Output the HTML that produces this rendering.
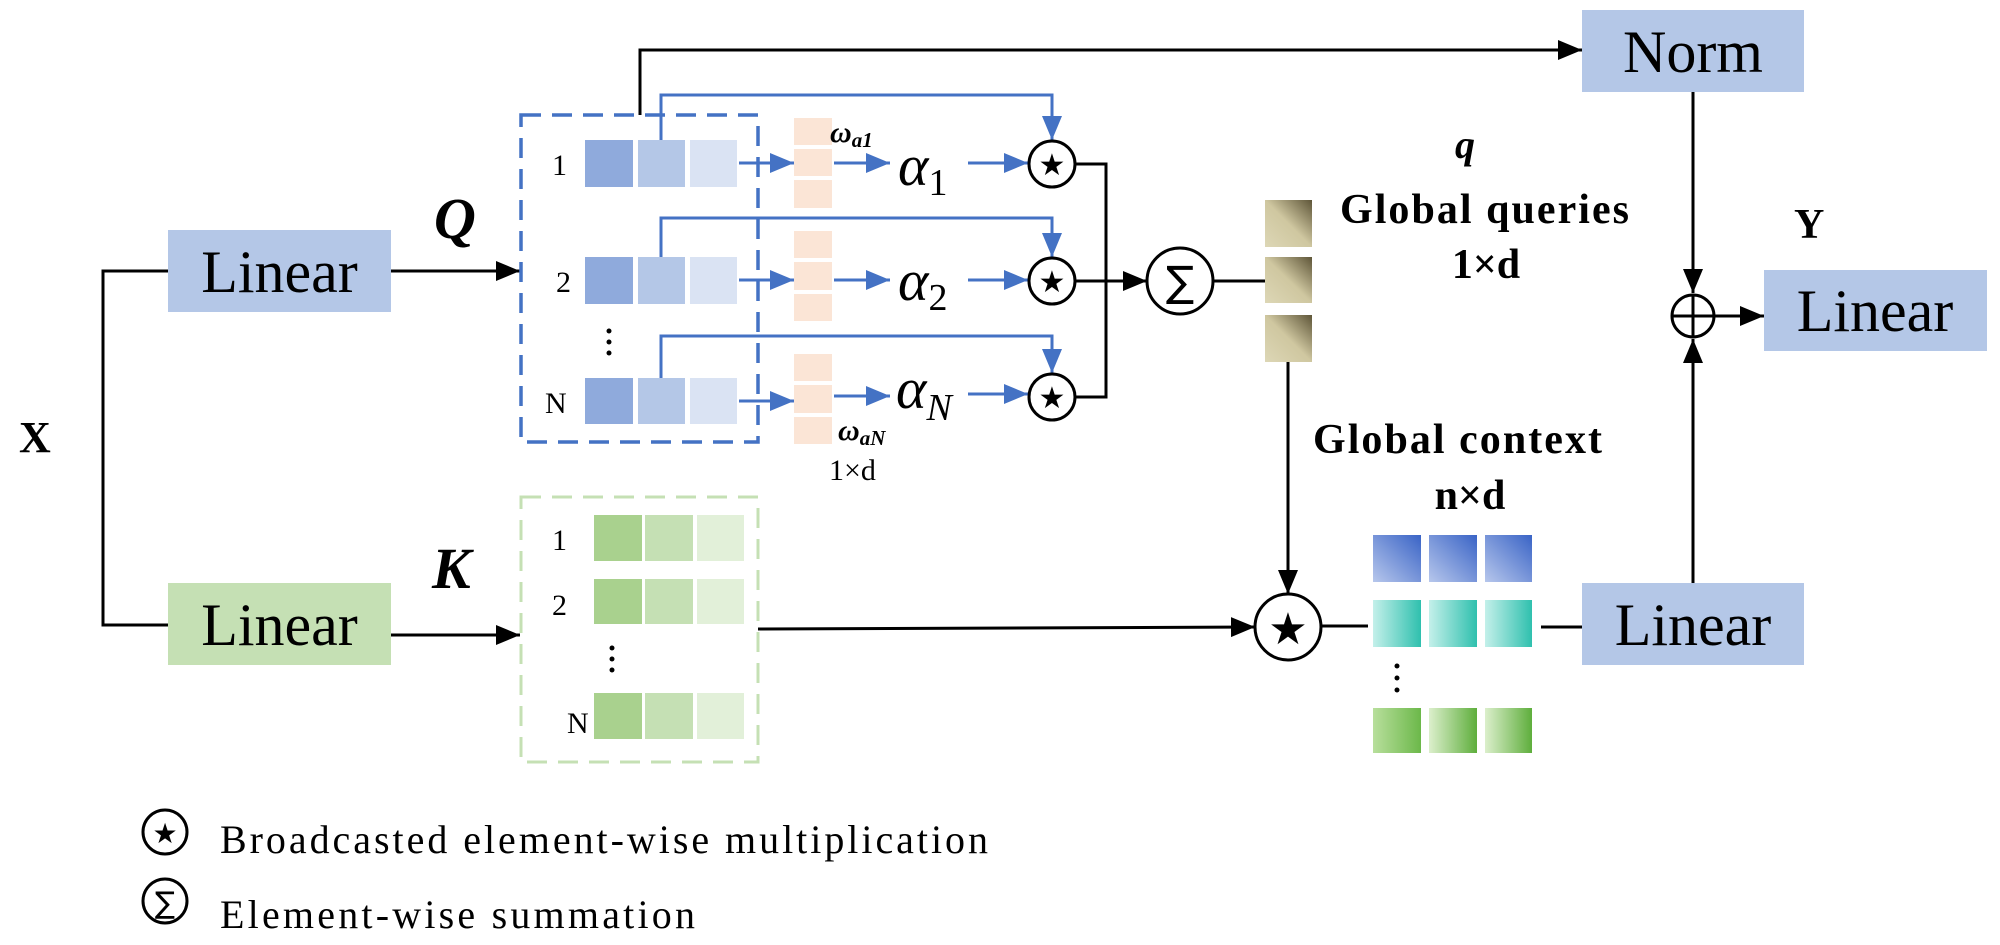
<!DOCTYPE html>
<html><head><meta charset="utf-8"><style>
html,body{margin:0;padding:0;background:#fff;}
svg{display:block;font-family:"Liberation Serif",serif;}
</style></head><body>
<svg width="2000" height="945" viewBox="0 0 2000 945" xmlns="http://www.w3.org/2000/svg">
<defs>
<marker id="ab" viewBox="0 0 10 10" refX="10" refY="5" markerWidth="6" markerHeight="6" markerUnits="userSpaceOnUse" orient="auto"><path d="M0,0L10,5L0,10z" fill="#000"/></marker>
<marker id="ak" viewBox="0 0 10 10" refX="10" refY="5" markerWidth="24" markerHeight="20" markerUnits="userSpaceOnUse" orient="auto" preserveAspectRatio="none"><path d="M0,0L10,5L0,10z" fill="#000"/></marker>
<marker id="au" viewBox="0 0 10 10" refX="10" refY="5" markerWidth="24" markerHeight="20" markerUnits="userSpaceOnUse" orient="auto" preserveAspectRatio="none"><path d="M0,0L10,5L0,10z" fill="#4472c4"/></marker>
<linearGradient id="gold" x1="0" y1="1" x2="1" y2="0"><stop offset="0" stop-color="#ddd7b6"/><stop offset="0.5" stop-color="#cfc7a0"/><stop offset="1" stop-color="#5e5538"/></linearGradient>
<linearGradient id="gb" x1="0" y1="1" x2="1" y2="0"><stop offset="0" stop-color="#b7c7ec"/><stop offset="1" stop-color="#3a64c6"/></linearGradient>
<linearGradient id="gt" x1="0" y1="0" x2="1" y2="0"><stop offset="0" stop-color="#c4f0ea"/><stop offset="1" stop-color="#2fc0ae"/></linearGradient>
<linearGradient id="gg" x1="0" y1="0" x2="1" y2="0"><stop offset="0" stop-color="#dcefcc"/><stop offset="1" stop-color="#5eae3c"/></linearGradient>
<linearGradient id="gg1" x1="0" y1="0" x2="1" y2="0"><stop offset="0" stop-color="#b8df9c"/><stop offset="1" stop-color="#6cb84a"/></linearGradient>
</defs>

<!-- X -->
<text x="19" y="452" font-size="44" font-weight="bold">X</text>
<polyline points="168,271 103,271 103,625 168,625" fill="none" stroke="#000" stroke-width="3"/>

<!-- Linear boxes left -->
<rect x="168" y="230" width="223" height="82" fill="#b4c7e7"/>
<text x="279.5" y="292" font-size="60" text-anchor="middle">Linear</text>
<rect x="168" y="583" width="223" height="82" fill="#c5e0b4"/>
<text x="279.5" y="645" font-size="60" text-anchor="middle">Linear</text>

<line x1="391" y1="271" x2="520" y2="271" stroke="#000" stroke-width="3" marker-end="url(#ak)"/>
<line x1="391" y1="635" x2="520" y2="635" stroke="#000" stroke-width="3" marker-end="url(#ak)"/>
<text x="434" y="238" font-size="58" font-weight="bold" font-style="italic">Q</text>
<text x="432" y="588" font-size="58" font-weight="bold" font-style="italic">K</text>

<!-- top black line to Norm -->
<polyline points="640,115 640,50 1582,50" fill="none" stroke="#000" stroke-width="3" marker-end="url(#ak)"/>

<!-- Q dashed box -->
<rect x="521" y="115" width="237" height="327" fill="none" stroke="#4472c4" stroke-width="3.5" stroke-dasharray="20,11"/>
<g font-size="30">
<text x="552" y="175">1</text><text x="556" y="292">2</text><text x="545" y="413">N</text>
</g>
<g fill="#4472c4"><circle cx="609" cy="331" r="2.5" fill="#000"/><circle cx="609" cy="342" r="2.5" fill="#000"/><circle cx="609" cy="353" r="2.5" fill="#000"/></g>
<g>
<rect x="585" y="140" width="48" height="47" fill="#8faadc"/><rect x="638" y="140" width="47" height="47" fill="#b4c7e7"/><rect x="690" y="140" width="47" height="47" fill="#dae3f3"/>
<rect x="585" y="257" width="48" height="47" fill="#8faadc"/><rect x="638" y="257" width="47" height="47" fill="#b4c7e7"/><rect x="690" y="257" width="47" height="47" fill="#dae3f3"/>
<rect x="585" y="378" width="48" height="46" fill="#8faadc"/><rect x="638" y="378" width="47" height="46" fill="#b4c7e7"/><rect x="690" y="378" width="47" height="46" fill="#dae3f3"/>
</g>

<!-- peach columns -->
<g fill="#fbe5d6">
<rect x="794" y="118" width="38" height="27"/><rect x="794" y="149" width="38" height="27"/><rect x="794" y="180" width="38" height="28"/>
<rect x="794" y="231" width="38" height="27"/><rect x="794" y="262" width="38" height="28"/><rect x="794" y="294" width="38" height="27"/>
<rect x="794" y="354" width="38" height="27"/><rect x="794" y="385" width="38" height="28"/><rect x="794" y="417" width="38" height="27"/>
</g>

<!-- blue arrows -->
<g stroke="#4472c4" stroke-width="3" fill="none">
<line x1="739" y1="163" x2="794" y2="163" marker-end="url(#au)"/>
<line x1="739" y1="280" x2="794" y2="280" marker-end="url(#au)"/>
<line x1="739" y1="401" x2="794" y2="401" marker-end="url(#au)"/>
<line x1="834" y1="163" x2="890" y2="163" marker-end="url(#au)"/>
<line x1="834" y1="280" x2="890" y2="280" marker-end="url(#au)"/>
<line x1="834" y1="396" x2="890" y2="396" marker-end="url(#au)"/>
<line x1="968" y1="163" x2="1028" y2="163" marker-end="url(#au)"/>
<line x1="968" y1="280" x2="1028" y2="280" marker-end="url(#au)"/>
<line x1="968" y1="394" x2="1028" y2="394" marker-end="url(#au)"/>
<polyline points="661,140 661,95 1052,95 1052,140" marker-end="url(#au)"/>
<polyline points="661,257 661,218 1052,218 1052,257" marker-end="url(#au)"/>
<polyline points="661,378 661,336 1052,336 1052,373" marker-end="url(#au)"/>
</g>

<!-- alphas -->
<g font-style="italic" font-size="58">
<text x="898" y="185">α<tspan font-style="normal" font-size="38" dy="10">1</tspan></text>
<text x="898" y="300">α<tspan font-style="normal" font-size="38" dy="10">2</tspan></text>
<text x="896" y="408">α<tspan font-size="38" dy="12">N</tspan></text>
</g>
<text x="830" y="142" font-size="30" font-weight="bold" font-style="italic">ω<tspan font-size="21" dy="5">a1</tspan></text>
<text x="838" y="440" font-size="30" font-weight="bold" font-style="italic">ω<tspan font-size="21" dy="5">aN</tspan></text>
<text x="829" y="480" font-size="30">1×d</text>

<!-- star circles -->
<g stroke="#000" stroke-width="3" fill="#fff">
<circle cx="1052" cy="164" r="23"/><circle cx="1052" cy="281" r="23"/><circle cx="1052" cy="397" r="23"/>
</g>
<g font-size="30" text-anchor="middle" font-family="DejaVu Sans,sans-serif">
<text x="1052" y="175">★</text><text x="1052" y="292">★</text><text x="1052" y="408">★</text>
</g>
<polyline points="1075,164 1106,164 1106,397 1075,397" fill="none" stroke="#000" stroke-width="3"/>
<line x1="1075" y1="281" x2="1147" y2="281" stroke="#000" stroke-width="3" marker-end="url(#ak)"/>
<circle cx="1180" cy="281" r="33" fill="#fff" stroke="#000" stroke-width="3"/>
<text x="1180" y="296" font-size="42" text-anchor="middle" font-family="DejaVu Sans,sans-serif">∑</text>
<line x1="1213" y1="281" x2="1265" y2="281" stroke="#000" stroke-width="3"/>

<!-- gold cells -->
<rect x="1265" y="200" width="47" height="47" fill="url(#gold)"/>
<rect x="1265" y="257" width="47" height="46" fill="url(#gold)"/>
<rect x="1265" y="315" width="47" height="47" fill="url(#gold)"/>
<line x1="1288" y1="362" x2="1288" y2="594" stroke="#000" stroke-width="3" marker-end="url(#ak)"/>

<text x="1465" y="158" font-size="40" font-weight="bold" font-style="italic" text-anchor="middle">q</text>
<text x="1340" y="223" font-size="42" font-weight="bold" textLength="289">Global queries</text>
<text x="1486" y="278" font-size="42" font-weight="bold" text-anchor="middle">1×d</text>
<text x="1313" y="453" font-size="42" font-weight="bold" textLength="289">Global context</text>
<text x="1470" y="509" font-size="42" font-weight="bold" text-anchor="middle">n×d</text>

<!-- K dashed box -->
<rect x="521" y="497" width="237" height="265" fill="none" stroke="#c5e0b4" stroke-width="3" stroke-dasharray="20,11"/>
<g font-size="30"><text x="552" y="550">1</text><text x="552" y="615">2</text><text x="567" y="733">N</text></g>
<circle cx="612" cy="648" r="2.5"/><circle cx="612" cy="659" r="2.5"/><circle cx="612" cy="670" r="2.5"/>
<rect x="594" y="515" width="48" height="46" fill="#a9d18e"/><rect x="645" y="515" width="48" height="46" fill="#c5e0b4"/><rect x="697" y="515" width="47" height="46" fill="#e2f0d9"/>
<rect x="594" y="579" width="48" height="45" fill="#a9d18e"/><rect x="645" y="579" width="48" height="45" fill="#c5e0b4"/><rect x="697" y="579" width="47" height="45" fill="#e2f0d9"/>
<rect x="594" y="693" width="48" height="46" fill="#a9d18e"/><rect x="645" y="693" width="48" height="46" fill="#c5e0b4"/><rect x="697" y="693" width="47" height="46" fill="#e2f0d9"/>

<line x1="758" y1="629" x2="1255" y2="627" stroke="#000" stroke-width="3" marker-end="url(#ak)"/>
<circle cx="1288" cy="627" r="33" fill="#fff" stroke="#000" stroke-width="3"/>
<text x="1288" y="644" font-size="44" text-anchor="middle" font-family="DejaVu Sans,sans-serif">★</text>
<line x1="1321" y1="626" x2="1368" y2="626" stroke="#000" stroke-width="3"/>

<!-- context cells -->
<rect x="1373" y="535" width="48" height="47" fill="url(#gb)"/><rect x="1429" y="535" width="48" height="47" fill="url(#gb)"/><rect x="1485" y="535" width="47" height="47" fill="url(#gb)"/>
<rect x="1373" y="600" width="48" height="47" fill="url(#gt)"/><rect x="1429" y="600" width="48" height="47" fill="url(#gt)"/><rect x="1485" y="600" width="47" height="47" fill="url(#gt)"/>
<rect x="1373" y="708" width="48" height="45" fill="url(#gg1)"/><rect x="1429" y="708" width="48" height="45" fill="url(#gg)"/><rect x="1485" y="708" width="47" height="45" fill="url(#gg)"/>
<circle cx="1397" cy="666" r="2.5"/><circle cx="1397" cy="678" r="2.5"/><circle cx="1397" cy="690" r="2.5"/>
<line x1="1541" y1="627" x2="1582" y2="627" stroke="#000" stroke-width="3"/>

<!-- right side -->
<rect x="1582" y="10" width="222" height="82" fill="#b4c7e7"/>
<text x="1693" y="72" font-size="60" text-anchor="middle">Norm</text>
<rect x="1582" y="583" width="222" height="82" fill="#b4c7e7"/>
<text x="1693" y="645" font-size="60" text-anchor="middle">Linear</text>
<rect x="1764" y="270" width="223" height="81" fill="#b4c7e7"/>
<text x="1875" y="331" font-size="60" text-anchor="middle">Linear</text>
<text x="1794" y="238" font-size="42" font-weight="bold">Y</text>
<line x1="1693" y1="92" x2="1693" y2="293" stroke="#000" stroke-width="3" marker-end="url(#ak)"/>
<line x1="1693" y1="583" x2="1693" y2="339" stroke="#000" stroke-width="3" marker-end="url(#ak)"/>
<circle cx="1693" cy="316" r="21" fill="#fff" stroke="#000" stroke-width="3"/>
<line x1="1672" y1="316" x2="1714" y2="316" stroke="#000" stroke-width="3"/>
<line x1="1693" y1="295" x2="1693" y2="337" stroke="#000" stroke-width="3"/>
<line x1="1714" y1="316" x2="1764" y2="316" stroke="#000" stroke-width="3" marker-end="url(#ak)"/>

<!-- legend -->
<circle cx="165" cy="832" r="22" fill="#fff" stroke="#000" stroke-width="3"/>
<text x="165" y="843" font-size="28" text-anchor="middle" font-family="DejaVu Sans,sans-serif">★</text>
<text x="220" y="853" font-size="40" textLength="768">Broadcasted element-wise multiplication</text>
<circle cx="165" cy="901" r="22" fill="#fff" stroke="#000" stroke-width="3"/>
<text x="165" y="913" font-size="30" text-anchor="middle" font-family="DejaVu Sans,sans-serif">∑</text>
<text x="220" y="928" font-size="40" textLength="475">Element-wise summation</text>
</svg>
</body></html>
